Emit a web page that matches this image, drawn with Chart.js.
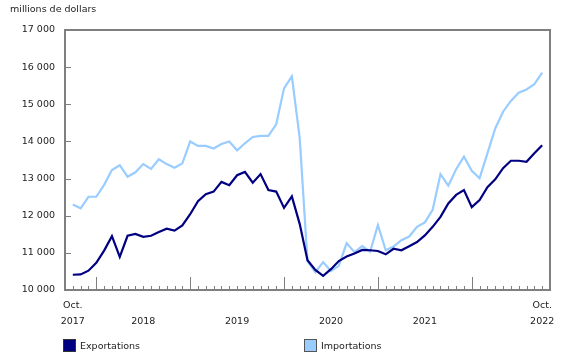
<!DOCTYPE html>
<html>
<head>
<meta charset="utf-8">
<script src="https://cdn.jsdelivr.net/npm/chart.js@4/dist/chart.umd.min.js"></script>
<style>
  body { margin: 0; background: #fff; }
  #wrap { position: relative; width: 580px; height: 360px; font-family: "DejaVu Sans", Verdana, sans-serif; }
  .leg { position: absolute; top: 339px; font-size: 9.5px; color: #222; display: flex; align-items: center; }
  .leg span.box { display: inline-block; width: 11px; height: 11px; border: 1px solid #333; margin-right: 4px; }
</style>
</head>
<body>
<div id="wrap">
  <canvas id="myChart" width="580" height="360"></canvas>
  <div class="leg" style="left:63px"><span class="box" style="background:#000080"></span>Exportations</div>
  <div class="leg" style="left:304px"><span class="box" style="background:#99ccff;border-color:#555"></span>Importations</div>
</div>
<script>
// monthly values, Oct. 2017 -> Oct. 2022 (millions de dollars)
const exportations = [
  10410, 10420, 10520,
  10730, 11060, 11450, 10890, 11460, 11510, 11430, 11460, 11560, 11650, 11600, 11740,
  12040, 12390, 12580, 12650, 12910, 12820, 13090, 13180, 12890, 13120, 12690, 12650,
  12210, 12520, 11780, 10800, 10540, 10380, 10560, 10780, 10900, 10980, 11080, 11070,
  11050, 10960, 11110, 11070, 11180, 11290, 11470, 11700, 11970, 12330, 12560, 12690,
  12230, 12420, 12770, 12980, 13280, 13480, 13480, 13450, 13680, 13900
];
const importations = [
  12300, 12200, 12510,
  12510, 12830, 13230, 13360, 13050, 13170, 13390, 13260, 13520, 13390, 13290, 13410,
  14000, 13880, 13880, 13810, 13930, 14000, 13760, 13950, 14120, 14150, 14150, 14460,
  15430, 15750, 14100, 10780, 10480, 10750, 10510, 10650, 11260, 11020, 11180, 11030,
  11750, 11070, 11170, 11340, 11440, 11700, 11820, 12160, 13120, 12810, 13250, 13590,
  13210, 13010, 13680, 14350, 14800, 15090, 15310, 15400, 15540, 15850
];
// tick labels on the x axis (index of month from Oct. 2017)
const xLabelPos = [0, 9, 21, 33, 45, 60];
const xLabelMonth = ['Oct.', '', '', '', '', 'Oct.'];
const xLabelYear = ['2017', '2018', '2019', '2020', '2021', '2022'];
const januaryIdx = [3, 15, 27, 39, 51];

const FONT = { family: '"DejaVu Sans", Verdana, sans-serif', size: 9.5, lineHeight: 1.7 };
const AXIS_COLOR = '#7f7f7f';

function toPoints(arr){
    const out = [];
    for(var i=0;i<arr.length;i++){
        out.push({ x: i, y: arr[i] });
    }
    return out;
}

function fmt(v){
    return String(v).replace(/\B(?=(\d{3})+(?!\d))/g, ' ');
}

// frame + inward tick marks
const framePlugin = {
    id: 'frame',
    afterDraw(chart){
        const ctx = chart.ctx;
        const area = chart.chartArea;
        const xs = chart.scales.x;
        const ys = chart.scales.y;
        ctx.save();
        ctx.strokeStyle = AXIS_COLOR;
        ctx.lineWidth = 2;
        ctx.beginPath();
        ctx.moveTo(area.left, area.top);
        ctx.lineTo(area.right, area.top);
        ctx.lineTo(area.right, area.bottom);
        ctx.stroke();

        ctx.lineWidth = 1;
        ctx.beginPath();
        for(var i=0;i<exportations.length;i++){
            const px = Math.round(xs.getPixelForValue(i)) + 0.5;
            const len = januaryIdx.indexOf(i) >= 0 ? 13 : 4;
            ctx.moveTo(px, area.bottom);
            ctx.lineTo(px, area.bottom - len);
        }
        ys.ticks.forEach(t => {
            const py = Math.round(ys.getPixelForValue(t.value)) + 0.5;
            ctx.moveTo(area.left, py);
            ctx.lineTo(area.left + 6, py);
        });
        ctx.stroke();
        ctx.restore();
    }
};

const data = {
    datasets: [
        {
            label: 'Exportations',
            data: toPoints(exportations),
            borderColor: '#000080',
            backgroundColor: '#000080',
            borderWidth: 2.2,
            pointRadius: 0,
            fill: false,
        },
        {
            label: 'Importations',
            data: toPoints(importations),
            borderColor: '#99ccff',
            backgroundColor: '#99ccff',
            borderWidth: 2.2,
            pointRadius: 0,
            fill: false,
        }
    ]
};

const config = {
    type: 'line',
    data: data,
    options: {
        responsive: false,
        animation: false,
        layout: { padding: { left: 10, right: 30, top: 0, bottom: 0 } },
        plugins: {
            legend: { display: false },
            tooltip: { enabled: false },
            title: {
                display: true,
                text: 'millions de dollars',
                align: 'start',
                color: '#222',
                font: { family: FONT.family, size: 9.5, weight: 'normal', lineHeight: 1.2 },
                padding: { top: 4, bottom: 14.6 }
            }
        },
        scales: {
            x: {
                type: 'linear',
                min: -1,
                max: 61,
                afterBuildTicks: axis => {
                    axis.ticks = xLabelPos.map(v => ({ value: v }));
                },
                afterFit: scale => { scale.height = 70; },
                grid: { display: false, drawTicks: false },
                border: { display: true, color: AXIS_COLOR, width: 2 },
                ticks: {
                    autoSkip: false,
                    maxRotation: 0,
                    padding: 7,
                    color: '#222',
                    font: FONT,
                    callback: function(value){
                        const k = xLabelPos.indexOf(value);
                        if(k < 0) return '';
                        return [xLabelMonth[k], xLabelYear[k]];
                    }
                }
            },
            y: {
                min: 10000,
                max: 17000,
                afterFit: scale => { scale.width = 55; },
                grid: { display: false, drawTicks: false },
                border: { display: true, color: AXIS_COLOR, width: 2 },
                ticks: {
                    stepSize: 1000,
                    padding: 10,
                    color: '#222',
                    font: { family: FONT.family, size: 9.5 },
                    callback: v => fmt(v)
                }
            }
        }
    },
    plugins: [framePlugin]
};

const myChart = new Chart(document.getElementById('myChart'), config);
</script>
</body>
</html>
